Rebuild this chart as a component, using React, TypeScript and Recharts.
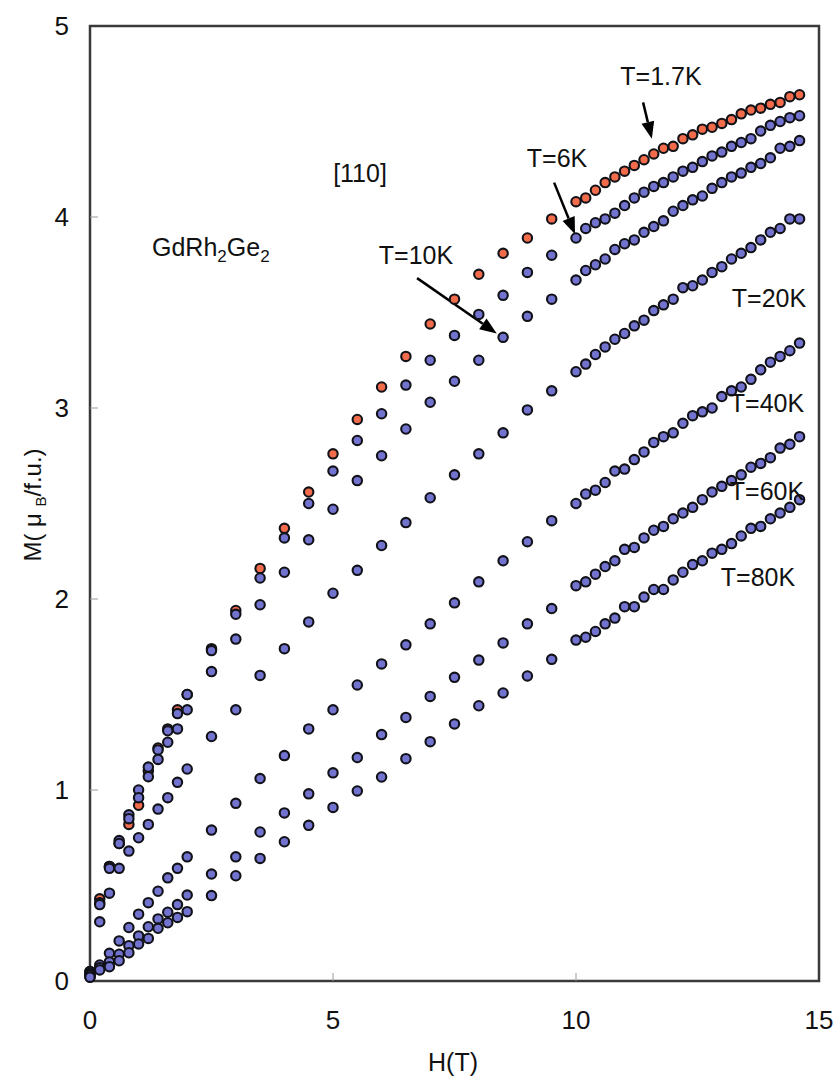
import React from "react";
import { ScatterChart, Scatter, XAxis, YAxis, ReferenceArea, ReferenceLine } from "recharts";

// field steps: 0.2 T up to 2 T, 0.5 T up to 10 T, then 0.2 T
const fieldT = [
  0, 0.2, 0.4, 0.6, 0.8, 1.0, 1.2, 1.4, 1.6, 1.8, 2.0, 2.5, 3.0, 3.5, 4.0, 4.5, 5.0, 5.5, 6.0, 6.5,
  7.0, 7.5, 8.0, 8.5, 9.0, 9.5, 10.0, 10.2, 10.4, 10.6, 10.8, 11.0, 11.2, 11.4, 11.6, 11.8, 12.0,
  12.2, 12.4, 12.6, 12.8, 13.0, 13.2, 13.4, 13.6, 13.8, 14.0, 14.2, 14.4, 14.6,
];

const m1p7K = [
  0.05, 0.43, 0.6, 0.72, 0.82, 0.92, 1.1, 1.22, 1.32, 1.42, 1.5, 1.74, 1.94, 2.16, 2.37, 2.56, 2.76, 2.94, 3.11, 3.27,
  3.44, 3.57, 3.7, 3.81, 3.89, 3.99, 4.08, 4.1, 4.14, 4.18, 4.21, 4.24, 4.27, 4.3, 4.33, 4.36, 4.37,
  4.41, 4.43, 4.46, 4.47, 4.49, 4.51, 4.54, 4.56, 4.57, 4.59, 4.6, 4.63, 4.64,
];
const m6K = [
  0.05, 0.41, 0.6, 0.735, 0.87, 1.0, 1.12, 1.21, 1.31, 1.4, 1.5, 1.73, 1.92, 2.11, 2.32, 2.5, 2.67, 2.83, 2.97, 3.12,
  3.25, 3.38, 3.49, 3.59, 3.71, 3.8, 3.89, 3.94, 3.97, 3.99, 4.02, 4.06, 4.1, 4.13, 4.16, 4.18, 4.21,
  4.24, 4.26, 4.29, 4.32, 4.34, 4.37, 4.39, 4.41, 4.45, 4.48, 4.5, 4.52, 4.53,
];
const m10K = [
  0.04, 0.4, 0.59, 0.72, 0.85, 0.96, 1.07, 1.16, 1.25, 1.32, 1.42, 1.62, 1.79, 1.97, 2.14, 2.31, 2.47, 2.62, 2.75, 2.89,
  3.03, 3.14, 3.25, 3.37, 3.48, 3.57, 3.67, 3.72, 3.75, 3.78, 3.83, 3.86, 3.88, 3.92, 3.95, 3.98, 4.03,
  4.06, 4.09, 4.11, 4.15, 4.18, 4.21, 4.23, 4.26, 4.28, 4.31, 4.36, 4.37, 4.4,
];
const m20K = [
  0.03, 0.31, 0.46, 0.59, 0.68, 0.75, 0.82, 0.9, 0.96, 1.04, 1.11, 1.28, 1.42, 1.6, 1.74, 1.88, 2.03, 2.15, 2.28, 2.4,
  2.53, 2.65, 2.76, 2.87, 2.99, 3.09, 3.19, 3.23, 3.28, 3.32, 3.36, 3.39, 3.43, 3.46, 3.51, 3.54, 3.57,
  3.63, 3.64, 3.67, 3.71, 3.74, 3.78, 3.81, 3.84, 3.88, 3.92, 3.94, 3.99, 3.99,
];
const m40K = [
  0.03, 0.084, 0.145, 0.21, 0.28, 0.35, 0.41, 0.47, 0.54, 0.59, 0.65, 0.79, 0.93, 1.06, 1.18, 1.32, 1.42, 1.55, 1.66, 1.76,
  1.87, 1.98, 2.09, 2.2, 2.3, 2.41, 2.5, 2.55, 2.57, 2.61, 2.67, 2.68, 2.73, 2.77, 2.82, 2.85, 2.87,
  2.92, 2.96, 2.98, 3.0, 3.06, 3.09, 3.11, 3.15, 3.2, 3.24, 3.27, 3.3, 3.34,
];
const m60K = [
  0.02, 0.07, 0.1, 0.14, 0.185, 0.236, 0.284, 0.325, 0.36, 0.4, 0.45, 0.56, 0.65, 0.78, 0.88, 0.98, 1.09, 1.17, 1.29, 1.38,
  1.49, 1.59, 1.68, 1.77, 1.87, 1.95, 2.07, 2.09, 2.13, 2.17, 2.2, 2.26, 2.27, 2.32, 2.36, 2.38, 2.42,
  2.45, 2.48, 2.52, 2.56, 2.59, 2.62, 2.65, 2.69, 2.71, 2.74, 2.79, 2.81, 2.85,
];
const m80K = [
  0.02, 0.058, 0.075, 0.106, 0.148, 0.194, 0.223, 0.276, 0.305, 0.333, 0.363, 0.447, 0.551, 0.642, 0.729, 0.815, 0.909, 0.995, 1.068, 1.164,
  1.253, 1.346, 1.441, 1.508, 1.597, 1.684, 1.785, 1.8, 1.83, 1.87, 1.9, 1.96, 1.96, 2.01, 2.05, 2.05, 2.1,
  2.14, 2.18, 2.2, 2.24, 2.26, 2.29, 2.33, 2.37, 2.38, 2.42, 2.45, 2.48, 2.52,
];

const xTicks = [0, 5, 10, 15];
const yTicks = [0, 1, 2, 3, 4, 5];

const toPoints = (ms: number[]) => fieldT.map((h, i) => ({ h, m: ms[i] }));

const BLUE = "#7272cf";
const RED = "#f26c4c";
const EDGE = "#111118";
const FONT = "'Liberation Sans', Arial, sans-serif";

const dot = (fill: string) => (p: any) => (
  <circle cx={p.cx} cy={p.cy} r={4.7} fill={fill} stroke={EDGE} strokeWidth={2.1} />
);

const arrow = (p: any) => {
  const { x1, y1, x2, y2 } = p;
  const dx = x2 - x1, dy = y2 - y1;
  const len = Math.sqrt(dx * dx + dy * dy);
  const ux = dx / len, uy = dy / len;
  const head = 17, half = 6.5;
  const bx = x2 - ux * head, by = y2 - uy * head;
  return (
    <g>
      <line x1={x1} y1={y1} x2={bx} y2={by} stroke="#000" strokeWidth={2.5} />
      <polygon
        points={`${x2},${y2} ${bx - uy * half},${by + ux * half} ${bx + uy * half},${by - ux * half}`}
        fill="#000"
      />
    </g>
  );
};

const YTick = (p: any) => {
  const v = p.payload.value;
  return (
    <g>
      {v > 0 && v < 5 && <line x1={p.x} x2={p.x + 8} y1={p.y} y2={p.y} stroke="#999" strokeWidth={1} />}
      <text x={p.x - 21} y={p.y} textAnchor="end" dominantBaseline="central" fontSize={26} fontFamily={FONT} fill="#111">
        {v}
      </text>
    </g>
  );
};

const XTick = (p: any) => {
  const v = p.payload.value;
  return (
    <g>
      {v > 0 && v < 15 && <line x1={p.x} x2={p.x} y1={p.y} y2={p.y - 8} stroke="#999" strokeWidth={1} />}
      <text x={p.x} y={p.y + 39} textAnchor="middle" dominantBaseline="central" fontSize={26} fontFamily={FONT} fill="#111">
        {v}
      </text>
    </g>
  );
};

const note = (left: number, top: number, extra: React.CSSProperties = {}): React.CSSProperties => ({
  position: "absolute",
  left,
  top,
  transform: "translate(-50%, -50%)",
  fontSize: 25,
  whiteSpace: "nowrap",
  color: "#111",
  ...extra,
});

export default function App() {
  return (
    <div style={{ position: "absolute", left: 0, top: 0, width: 839, height: 1077, background: "#fff", fontFamily: FONT }}>
      <ScatterChart width={839} height={1077} margin={{ top: 26, right: 20, bottom: 36, left: 0 }}>
        <XAxis
          type="number"
          dataKey="h"
          domain={[0, 15]}
          ticks={xTicks}
          height={60}
          axisLine={false}
          tickLine={false}
          tickSize={0}
          tickMargin={0}
          tick={<XTick />}
        />
        <YAxis
          type="number"
          dataKey="m"
          domain={[0, 5]}
          ticks={yTicks}
          width={90}
          axisLine={false}
          tickLine={false}
          tickSize={0}
          tickMargin={0}
          tick={<YTick />}
        />
        <ReferenceArea x1={0} x2={15} y1={0} y2={5} fill="none" stroke="#3a3a3a" strokeWidth={2.5} />
        <Scatter data={toPoints(m1p7K)} shape={dot(RED)} isAnimationActive={false} />
        <Scatter data={toPoints(m6K)} shape={dot(BLUE)} isAnimationActive={false} />
        <Scatter data={toPoints(m10K)} shape={dot(BLUE)} isAnimationActive={false} />
        <Scatter data={toPoints(m20K)} shape={dot(BLUE)} isAnimationActive={false} />
        <Scatter data={toPoints(m40K)} shape={dot(BLUE)} isAnimationActive={false} />
        <Scatter data={toPoints(m60K)} shape={dot(BLUE)} isAnimationActive={false} />
        <Scatter data={toPoints(m80K)} shape={dot(BLUE)} isAnimationActive={false} />
        <ReferenceLine segment={[{ x: 6.73, y: 3.68 }, { x: 8.37, y: 3.39 }]} shape={arrow} ifOverflow="visible" />
        <ReferenceLine segment={[{ x: 9.55, y: 4.18 }, { x: 9.98, y: 3.91 }]} shape={arrow} ifOverflow="visible" />
        <ReferenceLine segment={[{ x: 11.38, y: 4.6 }, { x: 11.56, y: 4.41 }]} shape={arrow} ifOverflow="visible" />
      </ScatterChart>

      <div style={note(661, 76)}>T=1.7K</div>
      <div style={note(557, 158)}>T=6K</div>
      <div style={note(416, 255)}>T=10K</div>
      <div style={note(360, 173)}>[110]</div>
      <div style={note(152, 250, { transform: "translate(0, -50%)" })}>
        GdRh<sub style={{ fontSize: 17 }}>2</sub>Ge<sub style={{ fontSize: 17 }}>2</sub>
      </div>
      <div style={note(769, 298)}>T=20K</div>
      <div style={note(767, 403)}>T=40K</div>
      <div style={note(767, 491)}>T=60K</div>
      <div style={note(758, 577)}>T=80K</div>
      <div style={note(453, 1062)}>H(T)</div>
      <div style={note(34, 505, { transform: "translate(-50%, -50%) rotate(-90deg)", fontSize: 24 })}>
        M( μ <sub style={{ fontSize: 15 }}>B</sub>/f.u.)
      </div>
    </div>
  );
}
